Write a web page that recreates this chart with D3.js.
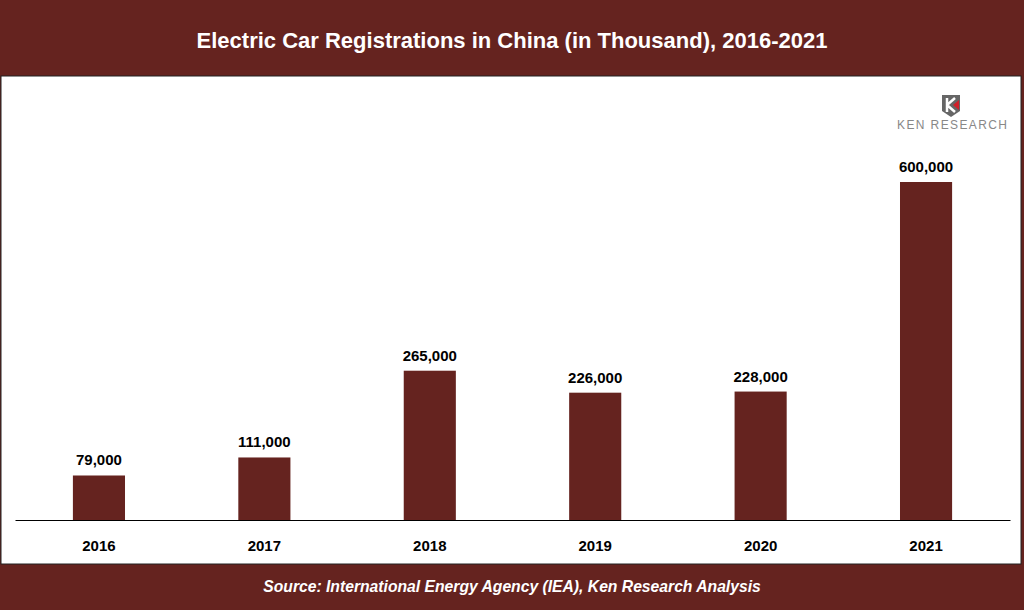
<!DOCTYPE html>
<html><head><meta charset="utf-8">
<script src="https://cdn.jsdelivr.net/npm/d3@7/dist/d3.min.js"></script>
<style>body{margin:0;background:#fff}svg{display:block}</style>
</head><body>
<svg id="c" width="1024" height="610"></svg>
<script>
const years = ["2016","2017","2018","2019","2020","2021"];
const values = [79000,111000,265000,226000,228000,600000];
const title = "Electric Car Registrations in China (in Thousand), 2016-2021";
const source = "Source: International Energy Agency (IEA), Ken Research Analysis";
const dark = "#65231f";
const svg = d3.select("#c");
svg.append("rect").attr("x",0).attr("y",0).attr("width",1024).attr("height",610).attr("fill",dark);
svg.append("rect").attr("x",1).attr("y",76).attr("width",1020).attr("height",488).attr("fill","#fff").attr("stroke","#222").attr("stroke-width",1);
svg.append("text").attr("x",512).attr("y",48).attr("text-anchor","middle").attr("fill","#fff")
  .attr("font-family","Liberation Sans, Arial").attr("font-weight","bold").attr("font-size",22).text(title);
svg.append("text").attr("x",512).attr("y",592).attr("text-anchor","middle").attr("fill","#fff")
  .attr("font-family","Liberation Sans, Arial").attr("font-weight","bold").attr("font-style","italic").attr("font-size",15.7).text(source);
const x = d3.scaleBand().domain(years).range([15,1010]).paddingInner(0.685).paddingOuter(0.35);
const y = d3.scaleLinear().domain([0,600000]).range([520,182]);
svg.selectAll(".bar").data(values).join("rect").attr("class","bar")
  .attr("x",(d,i)=>x(years[i])).attr("width",x.bandwidth()).attr("y",d=>y(d)).attr("height",d=>520-y(d)).attr("fill",dark);
svg.selectAll(".lbl").data(values).join("text").attr("class","lbl")
  .attr("x",(d,i)=>x(years[i])+x.bandwidth()/2).attr("y",d=>y(d)-10).attr("text-anchor","middle")
  .attr("font-family","Liberation Sans, Arial").attr("font-weight","bold").attr("font-size",15).text(d=>d3.format(",")(d));
const ax = svg.append("g").attr("transform","translate(0,520)").call(d3.axisBottom(x).tickSize(0).tickPadding(20));
ax.select(".domain").attr("stroke","#000");
ax.selectAll("text").attr("font-family","Liberation Sans, Arial").attr("font-weight","bold").attr("font-size",15).attr("fill","#000");
// logo
const lg = svg.append("g").attr("transform","translate(942,95)");
lg.append("path").attr("d","M0,0 H18 V16 L9,22 L0,16 Z").attr("fill","#666");
lg.append("path").attr("d","M5,3 V17 M5,10 L13,3 M5,10 L13,17").attr("stroke","#fff").attr("stroke-width",2.5).attr("fill","none");
lg.append("path").attr("d","M11,10 L17,5 V15 Z").attr("fill","#d0202a");
svg.append("text").attr("x",952).attr("y",129).attr("text-anchor","middle").attr("fill","#888")
  .attr("font-family","Liberation Sans, Arial").attr("font-size",12).attr("textLength",110).text("KEN RESEARCH");
</script>
</body></html>
